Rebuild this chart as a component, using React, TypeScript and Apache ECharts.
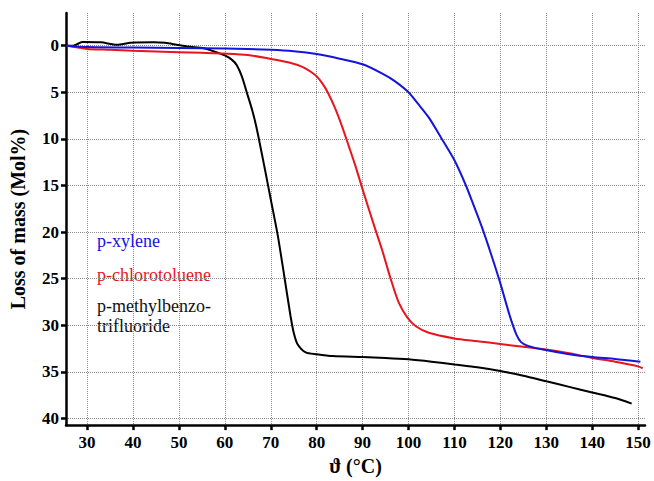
import { useEffect, useRef } from "react";
import * as echarts from "echarts";

const xTicks = [30, 40, 50, 60, 70, 80, 90, 100, 110, 120, 130, 140, 150];
const yTicks = [0, 5, 10, 15, 20, 25, 30, 35, 40];

const xylene: [number, number][] = [
  [25.5, 0], [30, 0.15], [40, 0.2], [50, 0.25], [60, 0.3], [70, 0.45], [75, 0.6],
  [80, 0.9], [85, 1.4], [90, 2.0], [94.3, 3.0], [97, 3.8], [100, 5.0], [102, 6.2],
  [104.4, 7.7], [107, 9.8], [110, 12.3], [112.5, 15.0], [114, 16.9], [116, 19.5],
  [118, 22.4], [120, 25.5], [122, 28.9], [123.5, 31.0], [124.5, 31.8], [126, 32.2],
  [129.3, 32.6], [135, 33.1], [140, 33.4], [145, 33.6], [150.5, 33.9],
];

const chlorotoluene: [number, number][] = [
  [25.5, 0], [28, 0.2], [30, 0.35], [35, 0.45], [40, 0.55], [50, 0.7], [55, 0.77],
  [60, 0.85], [65, 1.0], [69.8, 1.4], [74, 1.8], [77, 2.3], [78.7, 2.8], [80, 3.3],
  [81.3, 4.1], [82.5, 5.1], [84, 6.7], [85.4, 8.5], [87, 10.8], [88.5, 13.0],
  [90.3, 15.9], [92.5, 19.3], [94.3, 22.0], [96.1, 25.0], [97.9, 27.6], [99.8, 29.2],
  [101.6, 30.1], [104.4, 30.8], [110, 31.4], [115, 31.7], [120, 32.0], [125, 32.3],
  [130, 32.6], [135, 33.0], [140, 33.5], [145, 33.9], [150, 34.4], [151, 34.6],
];

const methylbenzotrifluoride: [number, number][] = [
  [25.5, 0], [27, 0], [28, -0.2], [29, -0.4], [33, -0.35], [36.5, -0.1], [39.5, -0.3],
  [44.5, -0.35], [47, -0.3], [49.5, -0.1], [52, 0.1], [55.4, 0.28], [57.5, 0.6],
  [60, 1.05], [61.5, 1.5], [62.6, 2.1], [63.7, 3.3], [64.7, 4.9], [66, 7.0],
  [66.9, 8.8], [68.7, 13.2], [70, 16.5], [71.5, 20.3], [72.9, 24.6], [74.3, 29.0],
  [75, 30.8], [75.8, 32.0], [77.6, 32.9], [80, 33.1], [83.5, 33.3], [90, 33.4],
  [95, 33.5], [100, 33.65], [105, 33.9], [110, 34.2], [115, 34.5], [120, 34.9],
  [125, 35.4], [130, 36.0], [135, 36.6], [140, 37.2], [145, 37.8], [148.6, 38.4],
];

const seriesNames = ["p-xylene", "p-chlorotoluene", "p-methylbenzotrifluoride"];
const legendLines = [
  { text: "p-xylene", color: "#1414dc" },
  { text: "p-chlorotoluene", color: "#e8141e" },
  { text: "p-methylbenzo-", color: "#111111" },
  { text: "trifluoride", color: "#111111" },
];
const legendY = [241, 275, 306, 326];

const FONT = "'Liberation Serif', 'DejaVu Serif', serif";

export default function App() {
  const ref = useRef<HTMLDivElement>(null);
  useEffect(() => {
    document.body.style.margin = "0";
    const chart = echarts.init(ref.current!, null, { renderer: "svg" });
    const axisLineStyle = { color: "#000", width: 2.5 };
    const splitLine = { show: true, lineStyle: { type: "dotted" as const, color: "#8c8c8c", width: 1 } };
    const tickLabel = { fontFamily: FONT, fontWeight: "bold" as const, fontSize: 17, color: "#000" };
    const nameStyle = { fontFamily: FONT, fontWeight: "bold" as const, fontSize: 20, color: "#000" };
    chart.setOption({
      animation: false,
      backgroundColor: "#fff",
      grid: { left: 61, right: 9, top: 13, bottom: 49.5 },
      xAxis: {
        type: "value",
        min: 25.4,
        max: 151.5,
        name: "ϑ (°C)",
        nameLocation: "middle",
        nameGap: 26,
        nameTextStyle: nameStyle,
        axisLine: { show: true, onZero: false, lineStyle: axisLineStyle },
        axisTick: { show: true, customValues: xTicks, length: 5, lineStyle: axisLineStyle },
        axisLabel: { customValues: xTicks, margin: 9, ...tickLabel },
        splitLine,
      },
      yAxis: {
        type: "value",
        inverse: true,
        min: -3.5,
        max: 40.7,
        name: "Loss of mass (Mol%)",
        nameLocation: "middle",
        nameRotate: 90,
        nameGap: 38,
        nameTextStyle: nameStyle,
        axisLine: { show: true, onZero: false, lineStyle: axisLineStyle },
        axisTick: { show: true, customValues: yTicks, length: 5, lineStyle: axisLineStyle },
        axisLabel: { customValues: yTicks, margin: 7, ...tickLabel },
        splitLine,
      },
      series: [
        { data: xylene, color: "#1414dc" },
        { data: chlorotoluene, color: "#e8141e" },
        { data: methylbenzotrifluoride, color: "#000" },
      ].map((s, i) => ({
        type: "line",
        name: seriesNames[i],
        data: s.data,
        showSymbol: false,
        smooth: 0.25,
        clip: false,
        lineStyle: { color: s.color, width: 2 },
        itemStyle: { color: s.color },
        z: 3 - i,
      })),
      graphic: legendLines.map((l, i) => ({
        type: "text",
        x: 97,
        y: legendY[i],
        style: {
          text: l.text,
          fill: l.color,
          font: `18px ${FONT}`,
          verticalAlign: "middle",
        },
      })),
    });
    return () => chart.dispose();
  }, []);
  return (
    <div
      ref={ref}
      style={{ width: 654, height: 481, position: "absolute", left: 0, top: 0 }}
    />
  );
}
